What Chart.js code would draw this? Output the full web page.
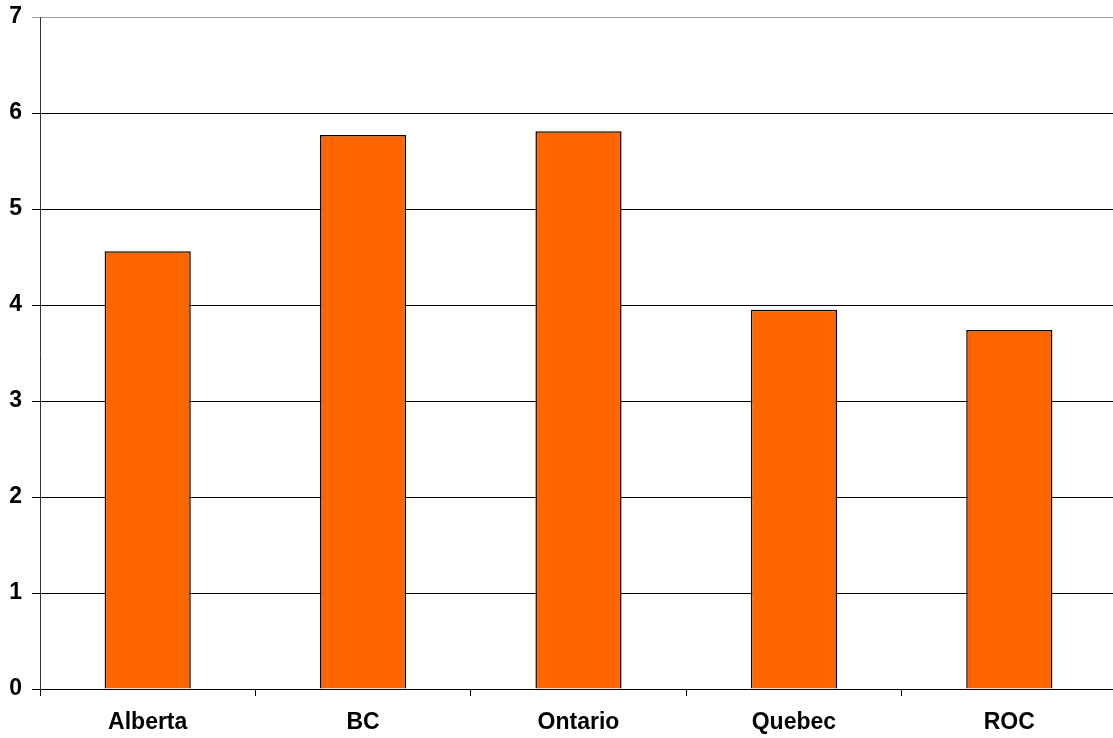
<!DOCTYPE html>
<html>
<head>
<meta charset="utf-8">
<script src="https://cdn.jsdelivr.net/npm/chart.js@4"></script>
<style>
  html, body { margin: 0; padding: 0; background: #fff; overflow: hidden; }
  #wrap { position: absolute; left: 0; top: 0; width: 1120px; height: 738px; }
</style>
</head>
<body>
<div id="wrap"><canvas id="chart" width="1120" height="738"></canvas></div>
<script>
// dados
const categories = ['Alberta', 'BC', 'Ontario', 'Quebec', 'ROC'];
const values = [4.56, 5.77, 5.81, 3.95, 3.74];
const yTicks = [0, 1, 2, 3, 4, 5, 6, 7];

const ctx = document.getElementById('chart').getContext('2d');
const labelFont = { family: 'Arial, "Liberation Sans"', size: 23, weight: 'bold' };

new Chart(ctx, {
    type: 'bar',
    data: {
        labels: categories,
        datasets: [{
            data: values,
            backgroundColor: '#FF6600',
            borderColor: '#000000',
            borderWidth: 1.5,
            barPercentage: 0.4,
            categoryPercentage: 1.0
        }]
    },
    options: {
        responsive: false,
        animation: false,
        layout: { padding: { top: 17, right: 3, left: 0, bottom: 0 } },
        plugins: {
            legend: { display: false },
            tooltip: { enabled: false }
        },
        scales: {
            x: {
                grid: {
                    offset: true,
                    drawOnChartArea: false,
                    color: '#000',
                    tickLength: 7
                },
                border: { color: '#000', width: 1 },
                ticks: {
                    color: '#000',
                    font: labelFont,
                    padding: 13
                },
                afterFit: scale => { scale.height = 49; }
            },
            y: {
                min: 0,
                max: 7,
                afterBuildTicks: scale => { scale.ticks = yTicks.map(v => ({ value: v })); },
                grid: {
                    color: c => (c.tick && c.tick.value === 7 ? '#a0a0a0' : '#000'),
                    tickLength: 8,
                    lineWidth: 1
                },
                border: { color: '#333', width: 1 },
                ticks: {
                    color: '#000',
                    font: labelFont,
                    padding: 10
                },
                afterFit: scale => {
                    scale.width = 40;
                    scale.paddingTop = 0;
                    scale.paddingBottom = 0;
                }
            }
        }
    }
});
</script>
</body>
</html>
